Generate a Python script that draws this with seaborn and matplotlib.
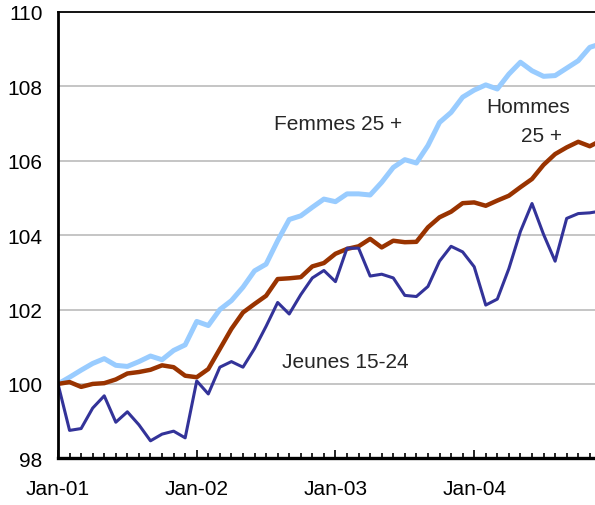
import numpy as np
import pandas as pd
import matplotlib
matplotlib.use("Agg")
import matplotlib.pyplot as plt
from matplotlib.ticker import MultipleLocator, FixedLocator
import seaborn as sns

months = list(range(48))
tick_pos = [0, 12, 24, 36]
tick_labels = ["Jan-01", "Jan-02", "Jan-03", "Jan-04"]

femmes = [100.0, 100.18, 100.37, 100.55, 100.68, 100.5, 100.47, 100.6, 100.75, 100.65,
          100.9, 101.05, 101.68, 101.57, 102.0, 102.24, 102.6, 103.04, 103.22, 103.85,
          104.42, 104.52, 104.75, 104.97, 104.9, 105.11, 105.11, 105.08, 105.42, 105.82,
          106.03, 105.94, 106.41, 107.03, 107.3, 107.71, 107.9, 108.04, 107.93, 108.33,
          108.65, 108.42, 108.27, 108.29, 108.49, 108.69, 109.05, 109.15]

hommes = [100.0, 100.05, 99.92, 100.0, 100.02, 100.12, 100.28, 100.32, 100.38, 100.5,
          100.45, 100.22, 100.18, 100.4, 100.94, 101.48, 101.92, 102.15, 102.37, 102.82,
          102.84, 102.87, 103.16, 103.25, 103.5, 103.63, 103.7, 103.9, 103.67, 103.85,
          103.81, 103.82, 104.21, 104.48, 104.63, 104.86, 104.88, 104.79, 104.93, 105.06,
          105.29, 105.51, 105.89, 106.18, 106.36, 106.51, 106.39, 106.55]

jeunes = [100.0, 98.75, 98.8, 99.35, 99.68, 98.97, 99.25, 98.9, 98.47, 98.65,
          98.73, 98.55, 100.08, 99.73, 100.45, 100.6, 100.45, 100.95, 101.55, 102.19,
          101.88, 102.4, 102.85, 103.05, 102.75, 103.65, 103.65, 102.9, 102.95, 102.85,
          102.38, 102.35, 102.62, 103.3, 103.7, 103.55, 103.15, 102.12, 102.28, 103.1,
          104.1, 104.85, 104.02, 103.3, 104.45, 104.58, 104.6, 104.65]

df = pd.DataFrame({"month": months, "Femmes 25 +": femmes,
                   "Hommes 25 +": hommes, "Jeunes 15-24": jeunes})

sns.set_style("white")
plt.rcParams["font.family"] = ["Liberation Sans", "DejaVu Sans"]

fig = plt.figure(figsize=(5.95, 5.06), dpi=100)
ax = fig.add_axes([58 / 595, 46.7 / 506, 1 - 58 / 595, (459.3 - 13) / 506])

kw = dict(solid_joinstyle="round", solid_capstyle="round")
sns.lineplot(data=df, x="month", y="Femmes 25 +", color="#99CCFF", linewidth=3.6, ax=ax, **kw)
sns.lineplot(data=df, x="month", y="Hommes 25 +", color="#993300", linewidth=3.2, ax=ax, **kw)
sns.lineplot(data=df, x="month", y="Jeunes 15-24", color="#333399", linewidth=2.2, ax=ax, **kw)

ax.set_xlim(0, 46.45)
ax.set_ylim(98, 110)
ax.set_yticks([98, 100, 102, 104, 106, 108, 110])
ax.set_yticklabels(["98", "100", "102", "104", "106", "108", "110"], fontsize=15)
ax.xaxis.set_major_locator(FixedLocator(tick_pos))
ax.set_xticklabels(tick_labels, fontsize=15)
ax.xaxis.set_minor_locator(MultipleLocator(1))
ax.tick_params(axis="x", which="both", bottom=True, top=False)
ax.tick_params(axis="x", which="major", direction="in", length=6, width=1.2, pad=15,
               colors="black")
ax.tick_params(axis="x", which="minor", direction="in", length=3.5, width=1.2, color="black")
ax.tick_params(axis="y", left=False, length=0, pad=11, colors="black")
ax.set_xlabel("")
ax.set_ylabel("")

for v in [100, 102, 104, 106, 108]:
    ax.axhline(v, color="#C0C0C0", linewidth=1.3, zorder=0)

for s in ["left", "bottom", "top"]:
    ax.spines[s].set_visible(True)
    ax.spines[s].set_color("black")
ax.spines["left"].set_linewidth(2.0)
ax.spines["bottom"].set_linewidth(2.4)
ax.spines["top"].set_linewidth(1.3)
ax.spines["right"].set_visible(False)

ax.text(18.7, 106.99, "Femmes 25 +", fontsize=15, ha="left", va="center")
ax.text(40.66, 107.45, "Hommes", fontsize=15, ha="center", va="center")
ax.text(41.8, 106.67, "25 +", fontsize=15, ha="center", va="center")
ax.text(19.4, 100.6, "Jeunes 15-24", fontsize=15, ha="left", va="center")

fig.savefig("out.png", dpi=100)
